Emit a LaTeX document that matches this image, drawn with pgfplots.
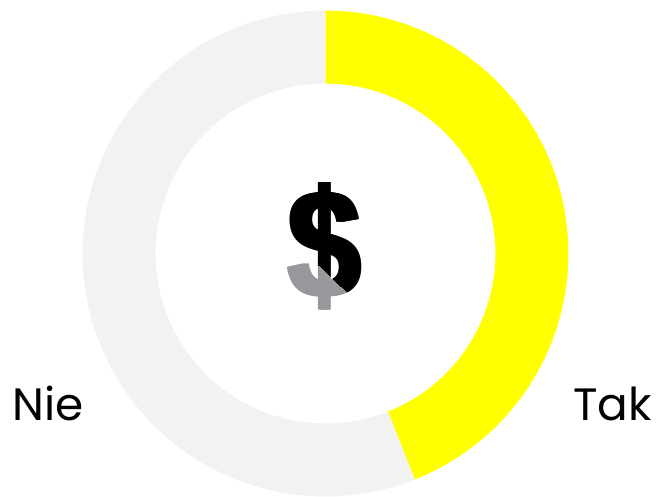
\documentclass[border=0pt]{standalone}
\usepackage{fontspec}
\setmainfont{Poppins}
\newfontfamily\dollarfont{Liberation Sans Bold}
\usepackage{pgfplots}
\usepgfplotslibrary{polar}
\pgfplotsset{compat=1.18}
\definecolor{ringgray}{RGB}{242,242,242}
\definecolor{dollargray}{RGB}{152,152,156}
\definecolor{pureyellow}{RGB}{255,255,0}
\begin{document}
\begin{tikzpicture}[x=0.75pt,y=0.75pt]
\path[use as bounding box] (0,0) rectangle (656,496);
\begin{polaraxis}[
  at={(325.5,242.5)}, anchor=center,
  width=364.5pt, height=364.5pt, scale only axis,
  ymin=0, ymax=243, hide axis, clip=false]
% Nie = 56 %
\addplot[fill=ringgray, draw=none] coordinates {
 (-68.4,243)(-72,243)(-76,243)(-80,243)(-84,243)(-88,243)(-92,243)(-96,243)(-100,243)(-104,243)(-108,243)(-112,243)(-116,243)(-120,243)(-124,243)(-128,243)(-132,243)(-136,243)(-140,243)(-144,243)(-148,243)(-152,243)(-156,243)(-160,243)(-164,243)(-168,243)(-172,243)(-176,243)(-180,243)(-184,243)(-188,243)(-192,243)(-196,243)(-200,243)(-204,243)(-208,243)(-212,243)(-216,243)(-220,243)(-224,243)(-228,243)(-232,243)(-236,243)(-240,243)(-244,243)(-248,243)(-252,243)(-256,243)(-260,243)(-264,243)(-268,243)(-270,243)
 (-270,170)(-268,170)(-264,170)(-260,170)(-256,170)(-252,170)(-248,170)(-244,170)(-240,170)(-236,170)(-232,170)(-228,170)(-224,170)(-220,170)(-216,170)(-212,170)(-208,170)(-204,170)(-200,170)(-196,170)(-192,170)(-188,170)(-184,170)(-180,170)(-176,170)(-172,170)(-168,170)(-164,170)(-160,170)(-156,170)(-152,170)(-148,170)(-144,170)(-140,170)(-136,170)(-132,170)(-128,170)(-124,170)(-120,170)(-116,170)(-112,170)(-108,170)(-104,170)(-100,170)(-96,170)(-92,170)(-88,170)(-84,170)(-80,170)(-76,170)(-72,170)(-68.4,170)
} -- cycle;
% Tak = 44 %
\addplot[fill=pureyellow, draw=none] coordinates {
 (90,243)(86,243)(82,243)(78,243)(74,243)(70,243)(66,243)(62,243)(58,243)(54,243)(50,243)(46,243)(42,243)(38,243)(34,243)(30,243)(26,243)(22,243)(18,243)(14,243)(10,243)(6,243)(2,243)(-2,243)(-6,243)(-10,243)(-14,243)(-18,243)(-22,243)(-26,243)(-30,243)(-34,243)(-38,243)(-42,243)(-46,243)(-50,243)(-54,243)(-58,243)(-62,243)(-66,243)(-68.4,243)
 (-68.4,170)(-66,170)(-62,170)(-58,170)(-54,170)(-50,170)(-46,170)(-42,170)(-38,170)(-34,170)(-30,170)(-26,170)(-22,170)(-18,170)(-14,170)(-10,170)(-6,170)(-2,170)(2,170)(6,170)(10,170)(14,170)(18,170)(22,170)(26,170)(30,170)(34,170)(38,170)(42,170)(46,170)(50,170)(54,170)(58,170)(62,170)(66,170)(70,170)(74,170)(78,170)(82,170)(86,170)(90,170)
} -- cycle;
\end{polaraxis}
\node[anchor=base west, inner sep=0pt, font=\fontsize{34pt}{36pt}\selectfont] at (12,76) {Nie};
\node[anchor=base east, inner sep=0pt, font=\fontsize{34pt}{36pt}\selectfont] at (652,76) {Tak};
\def\dollar#1{\foreach \o in {-3,-1.5,0,1.5,3}{\node[anchor=base, inner sep=0pt, xscale=0.9, yscale=1.085, text=#1, font=\dollarfont\fontsize{108pt}{110pt}\selectfont] at (325+\o,197) {\$};}}
\dollar{dollargray}
\begin{scope}
\clip (270,496-219) -- (400,496-343) -- (400,496-100) -- (270,496-100) -- cycle;
\dollar{black}
\end{scope}
\end{tikzpicture}
\end{document}
